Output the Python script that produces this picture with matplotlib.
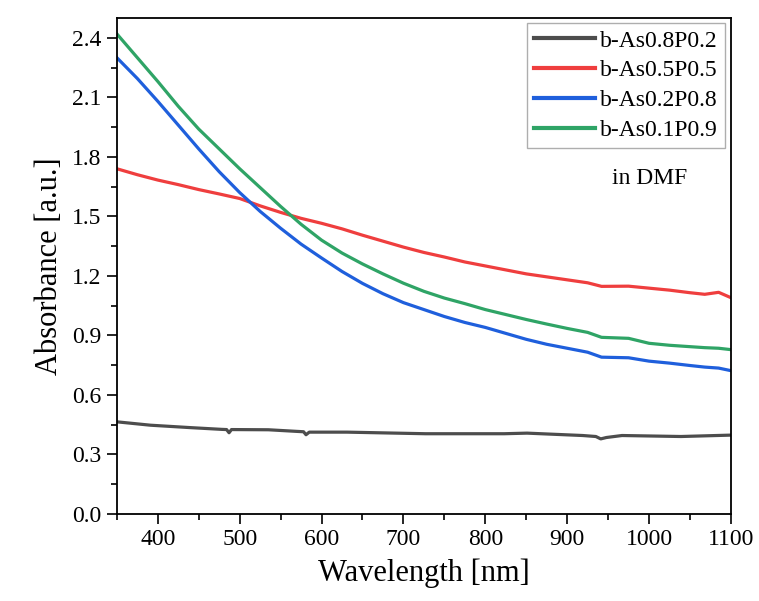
import matplotlib
matplotlib.use("Agg")
import matplotlib.pyplot as plt
from matplotlib.ticker import MultipleLocator, FormatStrFormatter

plt.rcParams['font.family'] = ['Liberation Serif', 'DejaVu Serif']

# Wavelength grid (nm) for the coloured curves
wl = [350, 375, 400, 425, 450, 475, 500, 525, 550, 575, 600, 625, 650, 675, 700,
      725, 750, 775, 800, 825, 850, 875, 900, 925, 942, 975, 1000, 1025, 1050,
      1068, 1085, 1100]

red = [1.74, 1.71, 1.683, 1.66, 1.635, 1.613, 1.59, 1.553, 1.52, 1.49, 1.465, 1.437,
       1.405, 1.375, 1.345, 1.318, 1.295, 1.27, 1.25, 1.23, 1.21, 1.195, 1.18, 1.165,
       1.147, 1.148, 1.138, 1.128, 1.115, 1.107, 1.117, 1.09]

blue = [2.30, 2.195, 2.08, 1.96, 1.84, 1.725, 1.62, 1.525, 1.44, 1.36, 1.29, 1.222,
        1.162, 1.11, 1.065, 1.03, 0.995, 0.965, 0.94, 0.91, 0.88, 0.855, 0.835, 0.815,
        0.79, 0.787, 0.77, 0.76, 0.748, 0.74, 0.735, 0.722]

green = [2.42, 2.30, 2.18, 2.055, 1.94, 1.84, 1.74, 1.645, 1.55, 1.46, 1.38, 1.315,
         1.26, 1.21, 1.163, 1.122, 1.088, 1.06, 1.03, 1.005, 0.98, 0.957, 0.935, 0.915,
         0.89, 0.885, 0.86, 0.85, 0.843, 0.838, 0.835, 0.828]

# Black curve read with its small dips
wl_black = [350, 391, 439, 478, 484, 487, 490, 535, 569, 578, 581, 585, 631, 727,
            823, 851, 919, 935, 941, 948, 967, 1039, 1100]
black = [0.464, 0.447, 0.435, 0.426, 0.425, 0.409, 0.425, 0.424, 0.416, 0.414, 0.399,
         0.412, 0.412, 0.404, 0.404, 0.407, 0.395, 0.390, 0.378, 0.385, 0.395, 0.390, 0.397]

labels = ["b-As0.8P0.2", "b-As0.5P0.5", "b-As0.2P0.8", "b-As0.1P0.9"]
colors = ["#4d4d4d", "#ef3e3e", "#1f5fdc", "#2fa466"]

fig = plt.figure(figsize=(7.59, 6.01), dpi=100)
ax = fig.add_axes([0.154, 0.145, 0.809, 0.825])

lw = 2.3
ax.plot(wl_black, black, color=colors[0], lw=lw, label=labels[0])
ax.plot(wl, red, color=colors[1], lw=lw, label=labels[1])
ax.plot(wl, blue, color=colors[2], lw=lw, label=labels[2])
ax.plot(wl, green, color=colors[3], lw=lw, label=labels[3])

ax.set_xlim(350, 1100)
ax.set_ylim(0, 2.5)
ax.set_xticks([400, 500, 600, 700, 800, 900, 1000, 1100])
ax.xaxis.set_minor_locator(MultipleLocator(50))
ax.yaxis.set_major_locator(MultipleLocator(0.3))
ax.yaxis.set_minor_locator(MultipleLocator(0.15))
ax.yaxis.set_major_formatter(FormatStrFormatter('%.1f'))

ax.tick_params(axis='both', which='major', direction='out', length=7, width=1.2,
               labelsize=17, pad=4)
ax.tick_params(axis='both', which='minor', direction='out', length=4, width=1.2)
for s in ax.spines.values():
    s.set_linewidth(1.3)

ax.set_xlabel("Wavelength [nm]", fontsize=22, labelpad=6)
ax.set_ylabel("Absorbance [a.u.]", fontsize=22, labelpad=6)

leg = ax.legend(loc='upper right', bbox_to_anchor=(0.99, 0.99), fontsize=17,
                frameon=True, fancybox=False, edgecolor='#9a9a9a',
                handlelength=2.6, handletextpad=0.2, borderpad=0.3,
                labelspacing=0.35, borderaxespad=0.0)
leg.get_frame().set_linewidth(1.0)
for h in leg.get_lines():
    h.set_linewidth(3.0)

ax.text(0.867, 0.677, "in DMF", transform=ax.transAxes, fontsize=17,
        ha='center', va='center')

fig.savefig("out.png", dpi=100)
